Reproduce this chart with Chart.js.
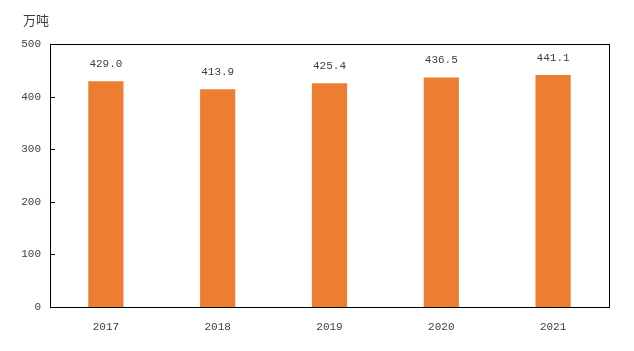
<!DOCTYPE html>
<html><head><meta charset="utf-8">
<script src="https://cdn.jsdelivr.net/npm/chart.js@4"></script>
<style>html,body{margin:0;padding:0;background:#fff}#wrap{width:634px;height:351px;position:relative}</style>
</head><body><div id="wrap"><canvas id="c" width="634" height="351"></canvas></div>
<script>
const categories = ["2017","2018","2019","2020","2021"];
const values = [429.0, 413.9, 425.4, 436.5, 441.1];
const yTicks = [0,100,200,300,400,500];
const unitLabel = "万吨";

const FONT = "'Liberation Mono','DejaVu Sans Mono',monospace";
const TXT = "#404040";

const deco = {
  id:'deco',
  afterDraw(chart){
    const {ctx, chartArea:a, scales:{x,y}} = chart;
    ctx.save();
    ctx.strokeStyle = '#000'; ctx.lineWidth = 1;
    ctx.strokeRect(Math.round(a.left)+0.5, Math.round(a.top)+0.5, Math.round(a.right-a.left), Math.round(a.bottom-a.top));
    ctx.beginPath();
    yTicks.forEach(v=>{ if(v===0||v===500) return; const py=Math.round(y.getPixelForValue(v))+0.5; ctx.moveTo(a.left,py); ctx.lineTo(a.left+5,py);});
    ctx.stroke();
    ctx.fillStyle = TXT; ctx.font = "11px "+FONT; ctx.textAlign='center'; ctx.textBaseline='middle';
    const meta = chart.getDatasetMeta(0);
    meta.data.forEach((bar,i)=>{ ctx.fillText(values[i].toFixed(1), bar.x, bar.y-17); });
    ctx.font = "13px 'Noto Sans CJK SC'"; ctx.textAlign='left';
    ctx.fillText(unitLabel, 23, 20);
    ctx.restore();
  }
};

new Chart(document.getElementById('c'), {
  type:'bar',
  data:{labels:categories, datasets:[{data:values, backgroundColor:'#ED7D31', barPercentage:0.63, categoryPercentage:0.5}]},
  options:{
    responsive:false, animation:false, devicePixelRatio:1,
    layout:{padding:{top:44,right:25,left:0,bottom:0}},
    plugins:{legend:{display:false}, tooltip:{enabled:false}},
    scales:{
      x:{grid:{display:false, drawTicks:false}, border:{display:false},
         ticks:{color:TXT, font:{family:FONT,size:11}, padding:13},
         afterFit(s){s.height=44;}},
      y:{min:0,max:500, grid:{display:false, drawTicks:false}, border:{display:false},
         afterBuildTicks(s){s.ticks = yTicks.map(v=>({value:v}));},
         ticks:{color:TXT, font:{family:FONT,size:11}, padding:9},
         afterFit(s){s.width=50;}}
    }
  },
  plugins:[deco]
});
</script></body></html>
